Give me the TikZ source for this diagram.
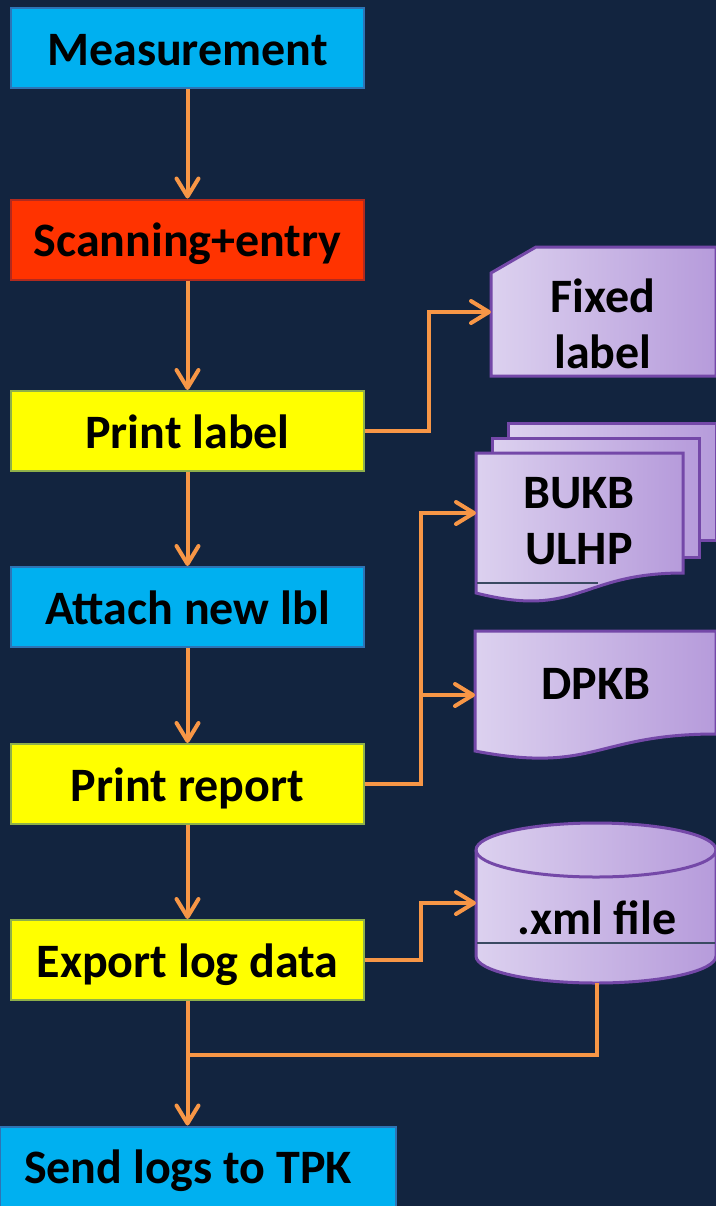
\documentclass[tikz,border=0pt]{standalone}
\usepackage{fontspec}
\setmainfont{Carlito}
\usetikzlibrary{arrows.meta}

\definecolor{bgcol}{HTML}{12243F}
\definecolor{boxblue}{HTML}{00B0F0}
\definecolor{boxblueline}{HTML}{2E74B5}
\definecolor{boxred}{HTML}{FF3300}
\definecolor{boxredline}{HTML}{B22A1E}
\definecolor{boxyellow}{HTML}{FFFF00}
\definecolor{boxyellowline}{HTML}{8FB04A}
\definecolor{flowcol}{HTML}{F79646}
\definecolor{docleft}{HTML}{DCD1EF}
\definecolor{docright}{HTML}{B69BDB}
\definecolor{docline}{HTML}{7448A8}
\definecolor{seamcol}{HTML}{3A4A62}

\newcommand{\boxfont}{\fontsize{24}{28}\selectfont\bfseries}

\tikzset{
  stepbox/.style={draw, line width=1pt, minimum width=176.5pt, minimum height=40pt,
    inner sep=0pt, text height=20pt, text depth=3pt, font=\boxfont},
  bluebox/.style={stepbox, fill=boxblue, draw=boxblueline},
  redbox/.style={stepbox, fill=boxred, draw=boxredline},
  yellowbox/.style={stepbox, fill=boxyellow, draw=boxyellowline},
  flow/.style={draw=flowcol, line width=2pt, -{Straight Barb[length=9pt,width=11pt,round]}},
  link/.style={draw=flowcol, line width=2pt},
  docshape/.style={draw=docline, line width=1.5pt, left color=docleft, right color=docright},
  doctext/.style={align=center, inner sep=0pt, font=\boxfont},
}

\begin{document}
\begin{tikzpicture}[x=0.5pt,y=-0.5pt]
\path[use as bounding box, fill=bgcol] (0,0) rectangle (716,1206);

% process boxes
\node[bluebox] (meas) at (187.5,48) {Measurement};
\node[redbox] (scan) at (187.5,239.5) {Scanning+entry};
\node[yellowbox] (plabel) at (187.5,431) {Print label};
\node[bluebox] (attach) at (187.5,607) {Attach new lbl};
\node[yellowbox] (preport) at (187.5,784) {Print report};
\node[yellowbox] (export) at (187.5,960) {Export log data};
\node[bluebox, minimum width=198pt] (send) at (198,1166.5) {Send logs to TPK\hspace*{10pt}};

% outputs
\path[docshape] (491,273) -- (536,247) -- (716,247) -- (716,376) -- (491,376) -- cycle;
\path[docshape] (508,423) rectangle (716,540);
\path[docshape] (492,438) rectangle (699,557);
\path[docshape] (476,453) -- (683,453) -- (683,573) .. controls (579,573) and (579,619) .. (476,593) -- cycle;
\draw[seamcol, line width=0.6pt] (477,583) -- (598,583);
\path[docshape] (475,631) -- (716,631) -- (716,734) .. controls (595,734) and (595,774) .. (475,751) -- cycle;
\path[docshape] (476,850) -- (476,956) arc[start angle=180, end angle=0, x radius=120, y radius=27]
  -- (716,850) arc[start angle=0, end angle=-180, x radius=120, y radius=27] -- cycle;
\draw[docline, line width=1.5pt] (476,850) arc[start angle=180, end angle=0, x radius=120, y radius=27];
\draw[seamcol, line width=0.6pt] (477,943) -- (715,943);

\node[doctext] (fixed) at (603,324) {Fixed\\label};
\node[doctext] (bukb) at (579,521.5) {BUKB\\ULHP};
\node[doctext] (dpkb) at (596,683.5) {DPKB};
\node[doctext] (xml) at (597,917.5) {.xml file};

\coordinate (fixedin) at (491,312);
\coordinate (bukbin) at (476,513);
\coordinate (dpkbin) at (475,695);
\coordinate (xmlin) at (476,903);
\coordinate (xmlout) at (597,983);

% main flow
\draw[flow] (meas) -- (scan);
\draw[flow] (scan) -- (plabel);
\draw[flow] (plabel) -- (attach);
\draw[flow] (attach) -- (preport);
\draw[flow] (preport) -- (export);
\draw[flow] (export) -- (export |- send.north);

% side branches
\draw[flow] (plabel.east) -- ++(64,0) |- (fixedin);
\draw[flow] (preport.east) -- ++(56,0) coordinate (rsplit) |- (bukbin);
\draw[flow] (rsplit |- dpkbin) -- (dpkbin);
\draw[flow] (export.east) -- ++(56,0) |- (xmlin);
\draw[link] (xmlout) |- (export |- 0,1055);
\end{tikzpicture}
\end{document}
